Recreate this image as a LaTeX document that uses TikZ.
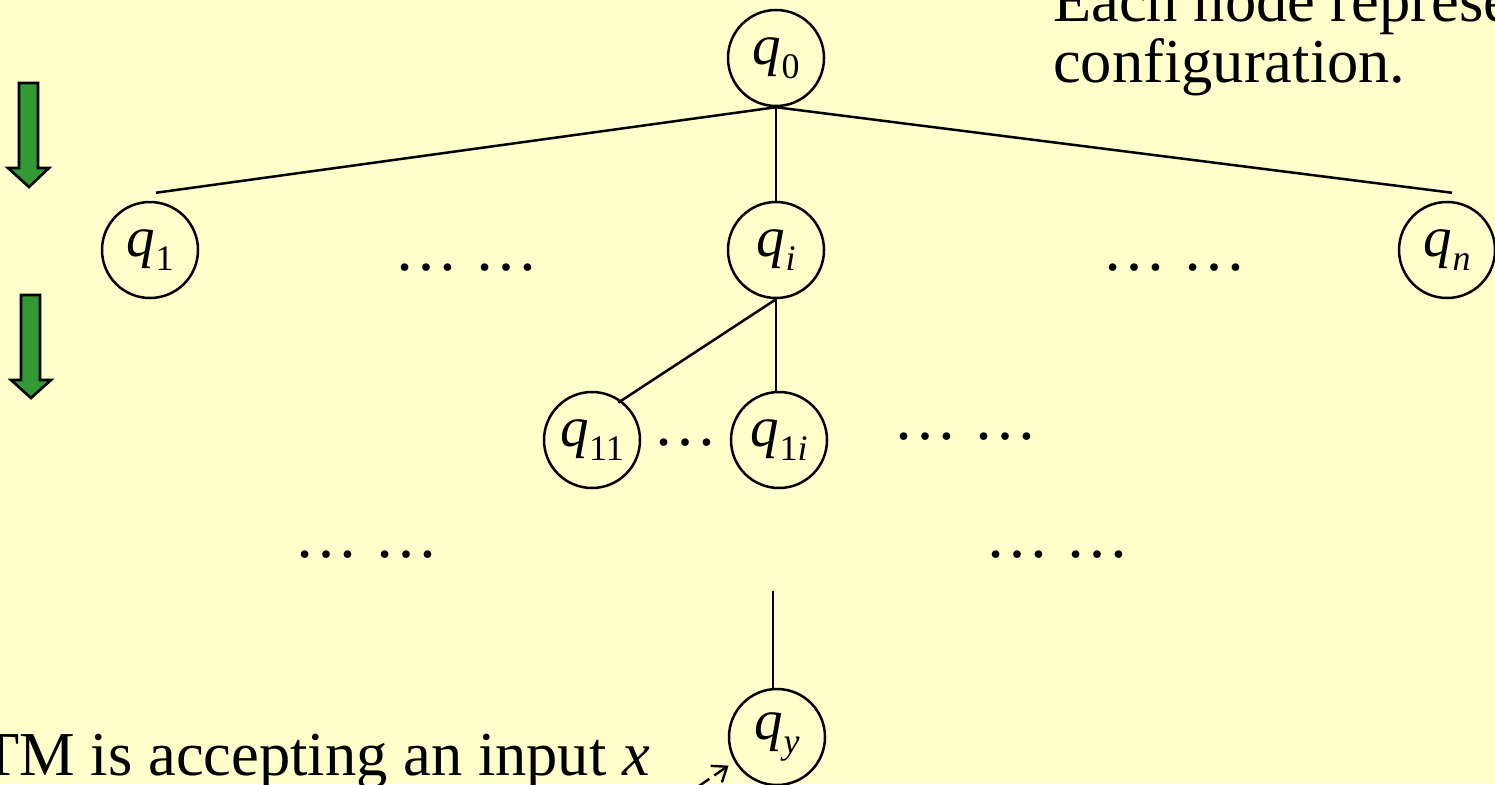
\documentclass[tikz,border=0pt]{standalone}
\usepackage{fontspec}
\setmainfont{Liberation Serif}
\usetikzlibrary{arrows.meta}
\definecolor{slidebg}{HTML}{FFFFCC}
\definecolor{arrowgreen}{HTML}{339933}
\newcommand\stq[1]{{\itshape q}\kern0.01em\raisebox{-0.24em}{\fontsize{36}{36}\selectfont\upshape #1}}
\tikzset{
  state/.style={circle, draw=black, line width=2.5pt, minimum size=96pt, inner sep=0pt,
    font=\fontsize{57}{57}\selectfont},
  edge/.style={draw=black, line width=2.5pt},
  dotsnode/.style={inner sep=0pt, anchor=base, font=\fontsize{64}{64}\selectfont},
  bigtext/.style={inner sep=0pt, font=\fontsize{62.5}{62.5}\selectfont},
  greenarrow/.style={fill=arrowgreen, draw=black, line width=2.6pt, line join=miter},
  pointer/.style={draw=black, line width=2.4pt, dash pattern=on 13pt off 6pt,
    -{Straight Barb[length=13pt,width=20pt,line width=2.4pt]}}
}
\begin{document}
\begin{tikzpicture}[x=1pt,y=-1pt]
\useasboundingbox (0,0) rectangle (1495,784);
\fill[slidebg] (0,0) rectangle (1495,784);
\clip (0,0) rectangle (1495,784);

% green arrows
\draw[greenarrow] (19,83) -- (38,83) -- (38,168) -- (49,168) -- (29,187) -- (8,168) -- (19,168) -- cycle;
\draw[greenarrow] (21,295) -- (40,295) -- (40,380) -- (51,380) -- (31,398) -- (11,380) -- (21,380) -- cycle;

% states
\node[state] (q0) at (776,58) {\stq{0}};
\node[state] (q1) at (150,250) {\stq{1}};
\node[state] (qi) at (776,250) {\stq{\itshape i}};
\node[state] (qn) at (1447,250) {\stq{\itshape n}};
\node[state] (q11) at (592,440) {\stq{11}};
\node[state] (q1i) at (779,440) {\stq{1\itshape i}};
\node[state] (qy) at (777,737) {\stq{\itshape y}};

% dots
\node[dotsnode] (d1) at (466,270) {… …};
\node[dotsnode] (d2) at (1174,270) {… …};
\node[dotsnode] (d3) at (685,445) {…};
\node[dotsnode] (d4) at (965,439) {… …};
\node[dotsnode] (d5) at (366,557) {… …};
\node[dotsnode] (d6) at (1057,557) {… …};

% texts
\node[bigtext, anchor=base west] (each1) at (1053,22) {Each node represents a};
\node[bigtext, anchor=base west] (each2) at (1053,82) {configuration.};
\node[bigtext, anchor=base east] (accept) at (650,775) {TM is accepting an input \textit{x}};

% edges
\draw[edge] (q0.south) -- ([xshift=6pt,yshift=8pt]q1.north);
\draw[edge] (q0.south) -- ([xshift=5pt,yshift=8pt]qn.north);
\draw[edge] (q0.south) -- (qi.north);
\draw[edge] (qi.south) -- ([xshift=-2pt,yshift=-3pt]q11.55);
\draw[edge] (qi.south) -- (qi.south |- q1i.north);
\coordinate (ytop) at ([xshift=-4pt,yshift=97pt]qy.north);
\draw[edge] (ytop) -- (ytop |- qy.north);

% pointer to accepting state
\coordinate (pstart) at (683,797);
\draw[pointer, shorten >=7pt] (pstart) -- (qy.210);
\end{tikzpicture}
\end{document}
